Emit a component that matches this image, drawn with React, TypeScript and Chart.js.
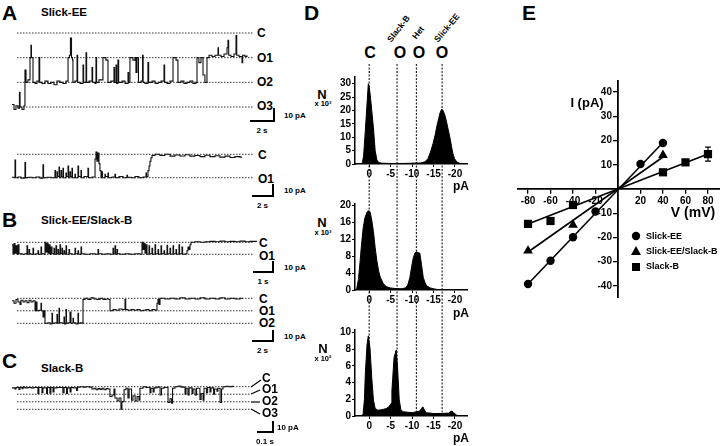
import React, { useEffect, useRef } from "react";
import { Chart, registerables } from "chart.js";
Chart.register(...registerables);

const FONT = "'Liberation Sans', Arial, Helvetica, sans-serif";
const INK = "#111";

// ---------------- Panels A–C: single-channel records ----------------
// [time, conductance level]  (level 0 = C, 1 = O1, 2 = O2, 3 = O3)
// A1 / A2 time in s, B1 / B2 time in s, C time in ms
const a1Trace = [
  [0, 2.9], [0.17, 3.1], [0.33, 2.95], [0.5, 3.05], [0.62, 2.4], [0.67, 3.0], [0.83, 3.1], [1.0, 2.95],
  [1.08, 1.5], [1.17, 2.0], [1.33, 1.9], [1.5, 1.0], [1.58, 0.5], [1.62, 1.0], [1.75, 2.0], [1.92, 2.05],
  [2.08, 1.95], [2.25, 1.0], [2.31, 2.0], [2.5, 2.05], [2.75, 1.95], [3.0, 2.05], [3.25, 2.0], [3.5, 2.1],
  [3.75, 1.95], [4.0, 2.0], [4.25, 2.05], [4.5, 1.95], [4.67, 1.0], [4.79, 0.9], [4.87, 0.2], [4.96, 1.0],
  [5.04, 1.1], [5.08, 2.0], [5.25, 1.95], [5.42, 0.9], [5.47, 2.0], [5.67, 2.05], [5.92, 1.3], [5.97, 2.0],
  [6.17, 0.8], [6.22, 2.0], [6.42, 1.95], [6.67, 1.4], [6.72, 2.0], [6.92, 2.05], [7.0, 1.0], [7.05, 2.0],
  [7.25, 1.9], [7.58, 1.0], [7.83, 1.1], [8.0, 2.0], [8.25, 1.95], [8.5, 1.4], [8.55, 2.0], [8.67, 1.3],
  [8.72, 2.05], [8.83, 1.1], [8.89, 2.0], [9.17, 1.95], [9.42, 2.05], [9.67, 1.6], [9.72, 2.0], [9.83, 1.0],
  [10.08, 1.1], [10.25, 1.0], [10.33, 1.6], [10.42, 1.0], [10.54, 2.0], [10.75, 1.95], [10.88, 0.9], [10.93, 2.0],
  [11.08, 2.05], [11.33, 1.2], [11.39, 2.0], [11.67, 1.95], [11.92, 2.05], [12.17, 2.0], [12.42, 1.95], [12.67, 1.3],
  [12.72, 2.0], [12.92, 2.05], [13.17, 1.95], [13.42, 1.0], [13.67, 1.1], [13.83, 2.0], [14.08, 1.95], [14.33, 2.05],
  [14.58, 2.0], [14.83, 1.95], [15.08, 2.05], [15.33, 2.0], [15.42, 1.0], [15.58, 1.2], [15.75, 1.0], [15.92, 1.7],
  [16.08, 2.0], [16.25, 1.0], [16.42, 0.9], [16.67, 0.95], [16.92, 0.9], [17.17, 0.6], [17.21, 0.9], [17.42, 0.95],
  [17.67, 0.85], [17.92, 0.6], [18.0, 0.3], [18.06, 0.9], [18.25, 0.95], [18.5, 0.85], [18.67, 0.1], [18.73, 0.9],
  [18.92, 0.95], [19.17, 1.2], [19.23, 0.9], [19.42, 0.95], [19.58, 0.9],
];
const a2Trace = [
  [0, 0.98], [0.17, 1.0], [0.25, 0.25], [0.3, 1.0], [0.5, 0.97], [0.75, 1.02], [1.08, 0.35], [1.13, 1.0],
  [1.33, 0.98], [1.67, 1.0], [2.0, 0.97], [2.33, 1.02], [2.58, 0.45], [2.63, 1.0], [2.92, 0.98], [3.25, 1.0],
  [3.58, 0.7], [3.63, 1.0], [3.75, 0.75], [3.79, 0.95], [3.92, 0.55], [3.96, 1.0], [4.08, 0.7], [4.13, 0.95],
  [4.25, 0.6], [4.29, 1.0], [4.5, 0.8], [4.54, 0.95], [4.67, 0.5], [4.72, 1.0], [4.83, 0.75], [4.88, 0.95],
  [5.0, 0.6], [5.04, 1.0], [5.25, 0.85], [5.29, 1.0], [5.5, 0.5], [5.55, 0.95], [5.75, 0.7], [5.79, 1.0],
  [6.0, 0.95], [6.33, 0.6], [6.38, 1.0], [6.67, 0.97], [6.92, 0.2], [7.0, -0.1], [7.08, 0.3], [7.17, -0.05],
  [7.25, 0.4], [7.33, 0.7], [7.42, 1.0], [7.5, 0.75], [7.54, 1.0], [7.75, 0.85], [7.79, 0.95], [8.0, 0.8],
  [8.04, 1.0], [8.33, 0.97], [8.58, 0.85], [8.63, 1.0], [8.92, 0.95], [9.25, 1.0], [9.58, 0.9], [9.63, 0.98],
  [9.92, 1.0], [10.25, 0.95], [10.58, 1.0], [10.92, 0.97], [11.17, 0.8], [11.21, 0.95], [11.33, 0.7], [11.42, 0.5],
  [11.5, 0.3], [11.58, 0.15], [11.67, 0.05], [11.92, 0.0], [12.33, 0.05], [12.75, 0.0], [13.17, 0.08], [13.58, 0.03],
  [14.0, 0.07], [14.42, 0.02], [14.83, 0.08], [15.25, 0.05], [15.67, 0.1], [16.08, 0.04], [16.5, 0.1], [16.92, 0.06],
  [17.33, 0.12], [17.75, 0.08], [18.17, 0.14], [18.58, 0.1], [19.0, 0.12], [19.17, 0.12],
];
const b1Trace = [
  [0, 0.2], [0.05, 1.0], [0.1, 0.1], [0.15, 0.9], [0.2, 0.3], [0.25, 1.0], [0.3, 0.2], [0.35, 0.95],
  [0.5, 1.0], [0.65, 0.95], [0.75, 0.3], [0.78, 1.0], [0.85, 0.6], [0.88, 0.95], [0.95, 1.0], [1.05, 0.5],
  [1.08, 1.0], [1.2, 0.95], [1.3, 0.7], [1.33, 1.0], [1.45, 0.4], [1.48, 0.95], [1.6, 1.0], [1.65, 0.0],
  [1.7, 0.8], [1.75, 0.1], [1.8, 0.9], [1.85, 0.2], [1.9, 1.0], [1.95, 0.4], [2.0, 0.95], [2.1, 0.5],
  [2.13, 1.0], [2.2, 0.3], [2.23, 0.95], [2.3, 0.6], [2.33, 1.0], [2.4, 0.2], [2.43, 0.95], [2.5, 0.5],
  [2.53, 1.0], [2.6, 0.7], [2.63, 0.95], [2.7, 0.3], [2.73, 1.0], [2.85, 0.6], [2.88, 0.95], [3.0, 1.0],
  [3.15, 0.5], [3.18, 0.95], [3.3, 0.7], [3.33, 1.0], [3.45, 0.4], [3.48, 0.95], [3.65, 1.0], [3.9, 0.95],
  [4.15, 1.0], [4.3, 0.6], [4.33, 0.95], [4.5, 1.0], [4.7, 0.95], [4.9, 1.0], [5.05, 0.5], [5.08, 0.95],
  [5.15, 0.3], [5.18, 1.0], [5.25, 0.6], [5.28, 0.95], [5.4, 1.0], [5.65, 0.95], [5.9, 1.0], [6.15, 0.95],
  [6.4, 1.0], [6.5, 0.0], [6.55, 0.6], [6.6, 0.1], [6.65, 0.9], [6.7, 0.2], [6.75, 1.0], [6.85, 0.3],
  [6.88, 0.95], [7.0, 0.5], [7.03, 1.0], [7.15, 0.2], [7.18, 0.95], [7.3, 0.6], [7.33, 1.0], [7.45, 0.3],
  [7.48, 0.95], [7.6, 0.7], [7.63, 1.0], [7.75, 0.25], [7.78, 0.95], [7.9, 0.5], [7.93, 1.0], [8.05, 0.3],
  [8.08, 0.95], [8.2, 0.6], [8.23, 1.0], [8.35, 0.2], [8.38, 0.95], [8.5, 0.4], [8.53, 1.0], [8.65, 0.95],
  [8.75, 0.7], [8.8, 0.4], [8.85, 0.6], [8.9, 0.2], [8.95, 0.0], [9.15, -0.05], [9.4, 0.0], [9.65, -0.05],
  [9.9, -0.08], [10.15, -0.05], [10.4, -0.1], [10.65, -0.05], [10.9, -0.08], [11.15, -0.05], [11.4, -0.1],
  [11.65, -0.05], [11.9, -0.08], [12.25, -0.05],
];
const b2Trace = [
  [0, 0.2], [0.2, 0.4], [0.4, 0.1], [0.6, 0.3], [0.8, 0.5], [0.9, 0.15], [1.1, 0.3], [1.3, 0.2],
  [1.5, 0.35], [1.7, 0.15], [1.9, 0.3], [2.1, 0.2], [2.3, 1.0], [2.4, 0.3], [2.5, 1.0], [2.7, 0.95],
  [2.9, 0.4], [2.95, 1.0], [3.1, 1.5], [3.2, 1.0], [3.3, 2.0], [3.6, 1.95], [3.8, 2.05], [4.0, 1.2],
  [4.05, 2.0], [4.3, 1.95], [4.5, 1.3], [4.55, 2.0], [4.7, 0.8], [4.75, 1.95], [5.0, 2.0], [5.2, 1.5],
  [5.25, 2.05], [5.4, 0.9], [5.45, 2.0], [5.6, 1.95], [5.8, 1.1], [5.9, 2.0], [6.1, 1.6], [6.15, 1.95],
  [6.4, 2.05], [6.6, 1.2], [6.65, 2.0], [6.8, 1.95], [7.0, 2.0], [7.1, 0.1], [7.3, 0.0], [7.6, 0.1],
  [7.9, -0.05], [8.2, 0.05], [8.5, 0.1], [8.8, 0.0], [9.1, 0.1], [9.4, 0.05], [9.7, 0.1], [9.8, 1.0],
  [10.1, 0.9], [10.4, 0.95], [10.7, 0.85], [11.0, 0.9], [11.3, 0.1], [11.37, 0.9], [11.6, 0.95], [11.9, 0.9],
  [12.2, 0.95], [12.5, 0.9], [12.8, 1.0], [13.1, 0.95], [13.4, 0.9], [13.7, 1.0], [14.0, 0.9], [14.3, 0.95],
  [14.5, 0.4], [14.6, 0.1], [14.7, 0.5], [14.8, 0.0], [15.3, 0.05], [15.8, 0.0], [16.3, 0.05], [16.8, -0.05],
  [17.3, 0.05], [17.8, 0.0], [18.3, 0.05], [18.8, -0.05], [19.3, 0.05], [19.8, 0.0], [20.3, 0.05], [20.8, -0.05],
  [21.3, 0.05], [21.8, 0.0], [22.3, 0.05], [22.8, 0.0], [23.1, 0.0],
];
const cTrace = [
  [0, 0.15], [12, 0.3], [17, 0.1], [29, 0.35], [33, 0.1], [42, 0.25], [46, 0.05], [54, 0.15],
  [67, 0.1], [79, 0.15], [92, 0.1], [108, 0.9], [112, 0.1], [125, 0.8], [129, 0.15], [144, 0.9],
  [148, 0.1], [158, 0.85], [162, 0.1], [171, 0.7], [175, 0.15], [188, 0.1], [212, 0.8], [217, 0.1],
  [227, 0.9], [231, 0.15], [242, 0.7], [246, 0.1], [254, 0.15], [269, 0.5], [273, 0.05], [283, 0.0],
  [296, 0.05], [308, 0.0], [321, 0.05], [333, 0.3], [342, 0.2], [350, 0.4], [358, 0.25], [367, 0.35],
  [375, 0.2], [383, 0.4], [392, 0.25], [400, 0.3], [408, 1.3], [417, 1.1], [425, 0.3], [429, 1.5],
  [438, 1.9], [446, 1.5], [454, 3.0], [458, 2.0], [467, 0.4], [475, 0.2], [483, 1.5], [488, 0.3],
  [498, 1.8], [504, 1.2], [513, 1.9], [521, 1.3], [529, 1.8], [533, 0.2], [546, 0.0], [558, 0.1],
  [575, 0.8], [579, 0.2], [588, 0.7], [592, 0.15], [604, 0.05], [617, 1.1], [623, 0.2], [633, 0.1],
  [650, 2.1], [658, 1.6], [665, 2.2], [669, 0.2], [679, 0.0], [692, -0.1], [704, 0.05], [721, 1.0],
  [725, 0.2], [733, 1.1], [738, 0.15], [750, 0.9], [754, 0.3], [763, 1.1], [769, 0.2], [783, 1.7],
  [788, 0.9], [796, 1.8], [800, 0.2], [810, 0.8], [815, 0.1], [825, 0.7], [829, 0.15], [840, 1.0],
  [844, 0.3], [854, 0.6], [858, 0.2], [867, 2.1], [873, 0.3], [879, 0.0], [892, -0.05], [904, 0.0],
  [917, -0.05], [925, -0.05],
];
const a1Levels = [0, 1, 2, 3];
const a2Levels = [0, 1];
const b1Levels = [0, 1];
const b2Levels = [0, 1, 2];
const cLevels = [0, 1, 2, 3];
const a1LevelNames = ["C", "O1", "O2", "O3"];
const a2LevelNames = ["C", "O1"];
const b1LevelNames = ["C", "O1"];
const b2LevelNames = ["C", "O1", "O2"];
const cLevelNames = ["C", "O1", "O2", "O3"];

// ---------------- Panel D: amplitude histograms [current pA, counts] ----------------
const histSlickEE = [
  [3.3, 0], [2, 0], [1.6, 0.3], [1.3, 3], [0.9, 12.4], [0.5, 22.3], [0.2, 30], [0, 29], [-0.3, 25],
  [-0.6, 20], [-1, 13.5], [-1.4, 5], [-1.8, 1.5], [-2.3, 0.5], [-3, 0.3], [-5, 0.2], [-8, 0.2], [-10, 0.3],
  [-12, 0.4], [-13, 0.8], [-13.7, 2], [-14.3, 4.5], [-14.9, 7.7], [-15.4, 11], [-15.8, 14.3], [-16.2, 17],
  [-16.5, 19], [-16.9, 20.5], [-17.2, 20], [-17.6, 18.5], [-18, 16], [-18.4, 13], [-18.8, 10], [-19.2, 6.5],
  [-19.5, 4], [-19.9, 2], [-20.4, 0.8], [-21, 0.3], [-22, 0.1], [-22.8, 0],
];
const histHet = [
  [3.3, 0], [2.9, 0.3], [2.5, 2.5], [2.1, 6.9], [1.8, 10.5], [1.4, 14.6], [1, 17], [0.5, 18.4], [0.1, 18.7],
  [-0.2, 18.5], [-0.6, 16.5], [-1, 13.8], [-1.4, 10], [-1.8, 6.9], [-2.2, 4.5], [-2.6, 3], [-3.3, 1.5],
  [-4, 0.8], [-4.9, 0.5], [-6, 0.35], [-7.5, 0.3], [-8.5, 0.5], [-9, 1.2], [-9.5, 3], [-9.9, 5.5],
  [-10.3, 7.7], [-10.7, 8.8], [-11, 9], [-11.5, 8.8], [-11.8, 8.7], [-12.2, 6], [-12.6, 3], [-13, 1.8],
  [-13.4, 1.0], [-14.2, 0.5], [-14.9, 0.3], [-16, 0.1], [-17, 0], [-22.8, 0],
];
const histSlackB = [
  [3.3, 0], [1.6, 0], [1.4, 0.3], [1.1, 2], [0.9, 5], [0.5, 8.5], [0.2, 9.6], [-0.2, 8.1], [-0.6, 4.6],
  [-1, 1.9], [-1.4, 0.9], [-2, 0.7], [-3, 0.75], [-4, 0.9], [-4.6, 1.1], [-5.1, 1.5], [-5.3, 3], [-5.5, 4.6],
  [-5.8, 7], [-6.3, 7.9], [-6.6, 6], [-7, 2], [-7.4, 0.7], [-8, 0.5], [-9, 0.45], [-10, 0.4], [-11, 0.5],
  [-11.8, 0.6], [-12.2, 0.9], [-12.5, 1.1], [-12.8, 0.8], [-13.3, 0.4], [-15, 0.3], [-17, 0.3], [-18.5, 0.35],
  [-19, 0.55], [-19.3, 0.6], [-19.7, 0.4], [-20.4, 0.1], [-21, 0], [-22.8, 0],
];
const dXTicks = [0, -5, -10, -15, -20];
const dYTicksTop = [0, 5, 10, 15, 20, 25, 30];
const dYTicksMid = [0, 4, 8, 12, 16, 20];
const dYTicksBot = [0, 2, 4, 6, 8, 10];
const dLevelCurrents = [0, -6.5, -11, -17]; // C, Slack-B O, Het O, Slick-EE O
const dLevelTop = ["C", "O", "O", "O"];
const dLevelNames = ["", "Slack-B", "Het", "Slick-EE"];

// ---------------- Panel E: I–V relations ----------------
const slickEEV = [-80, -60, -40, -20, 20, 40];
const slickEEI = [-39.2, -29.6, -19.9, -9.3, 10.3, 19];
const hetV = [-80, -40, 40];
const hetI = [-25.5, -14.8, 14];
const slackBV = [-80, -60, -40, 40, 60, 80];
const slackBI = [-14.4, -13.2, -6.6, 6.9, 11, 14.4];
const slackBErr = [0, 0, 0, 0, 0, 2.9];
const slickEEFit = [[-80, -39.2], [40, 19.2]];
const hetFit = [[-80, -26], [40, 13.2]];
const slackBFit = [[-80, -14.4], [80, 14.4]];
const eXTicks = [-80, -60, -40, -20, 20, 40, 60, 80];
const eYTicks = [-40, -30, -20, -10, 10, 20, 30, 40];

// ---------------- helpers ----------------
const tickFont = { family: FONT, size: 10, weight: "bold" as const };
const base = {
  animation: false as const,
  responsive: false,
  events: [] as any[],
  plugins: { legend: { display: false }, tooltip: { enabled: false } },
};

function traceConfig(trace: number[][], levels: number[], xMax: number, yMin: number, yMax: number, dash: number[]) {
  return {
    type: "line",
    data: {
      datasets: [
        { data: trace.map(([x, y]) => ({ x, y })), stepped: true, borderColor: INK, borderWidth: 1.1, pointRadius: 0 },
        ...levels.map((l) => ({
          data: [{ x: dash[0], y: l }, { x: dash[1], y: l }],
          borderColor: "#333", borderWidth: 1, borderDash: [1.5, 1.5], pointRadius: 0,
        })),
      ],
    },
    options: {
      ...base,
      layout: { padding: 0, autoPadding: false },
      scales: {
        x: { type: "linear", display: false, min: 0, max: xMax },
        y: { type: "linear", display: false, min: yMin, max: yMax, reverse: true },
      },
    },
  };
}

function histConfig(hist: number[][], yMax: number, yTicks: number[]) {
  return {
    type: "line",
    data: {
      datasets: [{
        data: hist.map(([x, y]) => ({ x, y })), fill: "origin", backgroundColor: "#000",
        borderColor: "#000", borderWidth: 1, pointRadius: 0,
      }],
    },
    options: {
      ...base,
      layout: { padding: { top: 5, right: 8, left: 0, bottom: 0 }, autoPadding: false },
      scales: {
        x: {
          type: "linear", min: -22.8, max: 3.3, reverse: true,
          afterBuildTicks: (s: any) => { s.ticks = dXTicks.map((value) => ({ value })); },
          afterFit: (s: any) => { s.height = 20; },
          grid: { drawOnChartArea: false, tickLength: 3, color: "#000" },
          border: { color: "#000", width: 1.5 },
          ticks: { font: tickFont, color: "#000", padding: 1, maxRotation: 0, autoSkip: false, callback: (v: any) => String(v) },
        },
        y: {
          type: "linear", min: 0, max: yMax,
          afterBuildTicks: (s: any) => { s.ticks = yTicks.map((value) => ({ value })); },
          afterFit: (s: any) => { s.width = 25; },
          grid: { drawOnChartArea: false, tickLength: 3, color: "#000" },
          border: { color: "#000", width: 1.5 },
          ticks: { font: tickFont, color: "#000", padding: 1, autoSkip: false, callback: (v: any) => String(v) },
        },
      },
    },
  };
}

const overlayConfig = {
  type: "line",
  data: {
    datasets: dLevelCurrents.map((v) => ({
      data: [{ x: v, y: 0 }, { x: v, y: 1 }], borderColor: "#000", borderWidth: 1, borderDash: [2, 1.5], pointRadius: 0,
    })),
  },
  options: {
    ...base,
    layout: { padding: 0, autoPadding: false },
    scales: {
      x: { type: "linear", display: false, min: -22.8, max: 3.3, reverse: true },
      y: { type: "linear", display: false, min: 0, max: 1 },
    },
  },
};

const errorBars = {
  id: "errorBars",
  afterDatasetsDraw(chart: any) {
    const { ctx, scales } = chart;
    ctx.save();
    ctx.strokeStyle = "#000";
    ctx.lineWidth = 1.2;
    slackBV.forEach((v, i) => {
      const e = slackBErr[i];
      if (!e) return;
      const x = scales.x.getPixelForValue(v);
      const y1 = scales.y.getPixelForValue(slackBI[i] + e);
      const y2 = scales.y.getPixelForValue(slackBI[i] - e);
      ctx.beginPath();
      ctx.moveTo(x, y1); ctx.lineTo(x, y2);
      ctx.moveTo(x - 3, y1); ctx.lineTo(x + 3, y1);
      ctx.moveTo(x - 3, y2); ctx.lineTo(x + 3, y2);
      ctx.stroke();
    });
    ctx.restore();
  },
};

// y tick labels of the crossing axis, placed left of the tick marks
const yAxisLabels = {
  id: "yAxisLabels",
  afterDraw(chart: any) {
    const { ctx, scales } = chart;
    const x0 = scales.x.getPixelForValue(0) - 6;
    ctx.save();
    ctx.font = `bold 10px ${FONT}`;
    ctx.fillStyle = "#000";
    ctx.textAlign = "right";
    ctx.textBaseline = "middle";
    eYTicks.forEach((v) => ctx.fillText(String(v), x0, scales.y.getPixelForValue(v)));
    ctx.restore();
  },
};

const pts = (V: number[], I: number[], style: string, r: number) => ({
  data: V.map((x, i) => ({ x, y: I[i] })), showLine: false, pointStyle: style, pointRadius: r,
  backgroundColor: "#000", borderColor: "#000", borderWidth: 0,
});
const fitLine = (f: number[][]) => ({
  data: f.map(([x, y]) => ({ x, y })), borderColor: "#000", borderWidth: 1.6, pointRadius: 0,
});

const ivConfig = {
  type: "line",
  data: {
    datasets: [
      pts(slickEEV, slickEEI, "circle", 4.2),
      pts(hetV, hetI, "triangle", 5.6),
      pts(slackBV, slackBI, "rect", 5.8),
      fitLine(slickEEFit), fitLine(hetFit), fitLine(slackBFit),
    ],
  },
  options: {
    ...base,
    layout: { padding: 0, autoPadding: false },
    scales: {
      x: {
        type: "linear", min: -89.8, max: 90.7, position: { y: 0 },
        afterBuildTicks: (s: any) => { s.ticks = eXTicks.map((value) => ({ value })); },
        afterFit: (s: any) => { s.height = 0; },
        grid: { drawOnChartArea: false, tickLength: 4, color: "#000", lineWidth: 1.3 },
        border: { color: "#000", width: 1.8 },
        ticks: { font: tickFont, color: "#000", padding: 2, maxRotation: 0, autoSkip: false, callback: (v: any) => String(v) },
      },
      y: {
        type: "linear", min: -45, max: 45, position: { x: 0 },
        afterBuildTicks: (s: any) => { s.ticks = eYTicks.map((value) => ({ value })); },
        afterFit: (s: any) => { s.width = 0; },
        grid: { drawOnChartArea: false, tickLength: 4, color: "#000", lineWidth: 1.3 },
        border: { color: "#000", width: 1.8 },
        ticks: { display: false, autoSkip: false },
      },
    },
  },
  plugins: [errorBars, yAxisLabels],
};

// ---------------- components ----------------
function ChartCanvas({ x, y, w, h, config }: any) {
  const ref = useRef<HTMLCanvasElement>(null);
  useEffect(() => {
    const c = new Chart(ref.current as HTMLCanvasElement, config);
    return () => c.destroy();
  }, []);
  return (
    <canvas ref={ref} width={w} height={h}
      style={{ position: "absolute", left: x, top: y, width: w, height: h }} />
  );
}

function T({ x, y, s = 12, a = "left", rot, children }: any) {
  const tx = a === "center" ? "-50%" : a === "right" ? "-100%" : "0";
  return (
    <div style={{
      position: "absolute", left: x, top: y, fontSize: s, fontWeight: 700, lineHeight: 1,
      whiteSpace: "nowrap", fontFamily: FONT, color: "#000",
      transform: `translate(${tx}, -50%)${rot ? ` rotate(${rot}deg)` : ""}`,
      transformOrigin: "0 50%",
    }}>{children}</div>
  );
}

function ScaleBar({ x0, x1, y, top, ampLabel, timeLabel, ampX = 284 }: any) {
  return (
    <>
      <div style={{ position: "absolute", left: x0, top: y - 1, width: x1 - x0 + 1, height: 2, background: "#000" }} />
      <div style={{ position: "absolute", left: x1 - 1, top, width: 2, height: y - top + 1, background: "#000" }} />
      <T x={ampX} y={(top + y) / 2 + 1} s={8}>{ampLabel}</T>
      <T x={(x0 + x1) / 2} y={y + 10} s={8} a="center">{timeLabel}</T>
    </>
  );
}

function LevelLabels({ names, ys, x }: any) {
  return <>{names.map((n: string, i: number) => <T key={n} x={x} y={ys[i]} s={12}>{n}</T>)}</>;
}

export default function App() {
  return (
    <div style={{ position: "fixed", left: 0, top: 0, width: 720, height: 446, background: "#fff", overflow: "hidden", fontFamily: FONT }}>
      {/* ---- A ---- */}
      <T x={2} y={12} s={21}>A</T>
      <T x={41} y={13} s={11.5}>Slick-EE</T>
      <ChartCanvas x={12} y={22} w={245} h={95} config={traceConfig(a1Trace, a1Levels, 20.42, -0.446, 3.405, [0.42, 20.08])} />
      <LevelLabels names={a1LevelNames} ys={[33, 58, 82, 106]} x={257} />
      <ScaleBar x0={250} x1={274} y={121} top={108} ampLabel="10 pA" timeLabel="2 s" />
      <ChartCanvas x={12} y={140} w={245} h={50} config={traceConfig(a2Trace, a2Levels, 20.42, -0.611, 1.526, [0.42, 20.08])} />
      <LevelLabels names={a2LevelNames} ys={[155, 179]} x={258} />
      <ScaleBar x0={252} x1={273} y={196} top={184} ampLabel="10 pA" timeLabel="2 s" />

      {/* ---- B ---- */}
      <T x={2} y={219} s={21}>B</T>
      <T x={41} y={221} s={11.5}>Slick-EE/Slack-B</T>
      <ChartCanvas x={12} y={232} w={245} h={30} config={traceConfig(b1Trace, b1Levels, 12.25, -0.858, 1.642, [0.25, 12.05])} />
      <LevelLabels names={b1LevelNames} ys={[243, 256]} x={259} />
      <ScaleBar x0={253} x1={273} y={272} top={261} ampLabel="10 pA" timeLabel="1 s" />
      <ChartCanvas x={12} y={288} w={245} h={42} config={traceConfig(b2Trace, b2Levels, 24.5, -0.824, 2.536, [0.5, 24.1])} />
      <LevelLabels names={b2LevelNames} ys={[299, 311, 323]} x={259} />
      <ScaleBar x0={252} x1={273} y={341} top={330} ampLabel="10 pA" timeLabel="2 s" />

      {/* ---- C ---- */}
      <T x={2} y={360} s={21}>C</T>
      <T x={41} y={369} s={11.5}>Slack-B</T>
      <ChartCanvas x={12} y={378} w={245} h={38} config={traceConfig(cTrace, cLevels, 1020.8, -1.155, 3.89, [20.8, 991.7])} />
      <svg width={20} height={50} style={{ position: "absolute", left: 249, top: 372 }}>
        <line x1={2} y1={15} x2={12} y2={8} stroke="#000" strokeWidth={1.2} />
        <line x1={2} y1={22} x2={11} y2={18} stroke="#000" strokeWidth={1.2} />
        <line x1={2} y1={30} x2={11} y2={30} stroke="#000" strokeWidth={1.2} />
        <line x1={2} y1={37} x2={11} y2={42} stroke="#000" strokeWidth={1.2} />
      </svg>
      <LevelLabels names={cLevelNames} ys={[378, 389, 401, 413]} x={262} />
      <ScaleBar x0={257} x1={273} y={432} top={421} ampLabel="10 pA" timeLabel="0.1 s" ampX={277} />

      {/* ---- D ---- */}
      <T x={304} y={12} s={21}>D</T>
      {dLevelTop.map((n, i) => (
        <T key={"lt" + i} x={[370, 400, 419, 442][i]} y={53} s={16} a="center">{n}</T>
      ))}
      <T x={389} y={41} s={8.5} rot={-52}>{dLevelNames[1]}</T>
      <T x={414} y={38} s={8.5} rot={-52}>{dLevelNames[2]}</T>
      <T x={436} y={41} s={8.5} rot={-50}>{dLevelNames[3]}</T>
      <T x={322} y={94} s={13} a="center">N</T>
      <T x={323} y={104} s={7.5} a="center">x 10³</T>
      <T x={322} y={222} s={13} a="center">N</T>
      <T x={323} y={233} s={7.5} a="center">x 10³</T>
      <T x={323} y={348} s={13} a="center">N</T>
      <T x={323} y={359} s={7.5} a="center">x 10²</T>
      <ChartCanvas x={330} y={70} w={145} h={114} config={histConfig(histSlickEE, 32.5, dYTicksTop)} />
      <ChartCanvas x={330} y={197} w={145} h={113} config={histConfig(histHet, 20.3, dYTicksMid)} />
      <ChartCanvas x={330} y={323} w={145} h={113} config={histConfig(histSlackB, 10.3, dYTicksBot)} />
      <ChartCanvas x={355} y={64} w={112} h={352} config={overlayConfig} />
      <T x={461} y={186} s={12} a="center">pA</T>
      <T x={461} y={313} s={12} a="center">pA</T>
      <T x={461} y={438} s={12} a="center">pA</T>

      {/* ---- E ---- */}
      <T x={522} y={12} s={21}>E</T>
      <ChartCanvas x={517} y={80} w={203} h={218} config={ivConfig} />
      <T x={587} y={102} s={13} a="center">I (pA)</T>
      <T x={693} y={212} s={14} a="center">V (mV)</T>
      <svg width={14} height={45} style={{ position: "absolute", left: 629, top: 229 }}>
        <circle cx={7} cy={7} r={4.2} fill="#000" />
        <polygon points="7,17 12,26 2,26" fill="#000" />
        <rect x={3} y={34} width={8} height={8} fill="#000" />
      </svg>
      <T x={646} y={236} s={9}>Slick-EE</T>
      <T x={646} y={251} s={9}>Slick-EE/Slack-B</T>
      <T x={646} y={266} s={9}>Slack-B</T>
    </div>
  );
}
